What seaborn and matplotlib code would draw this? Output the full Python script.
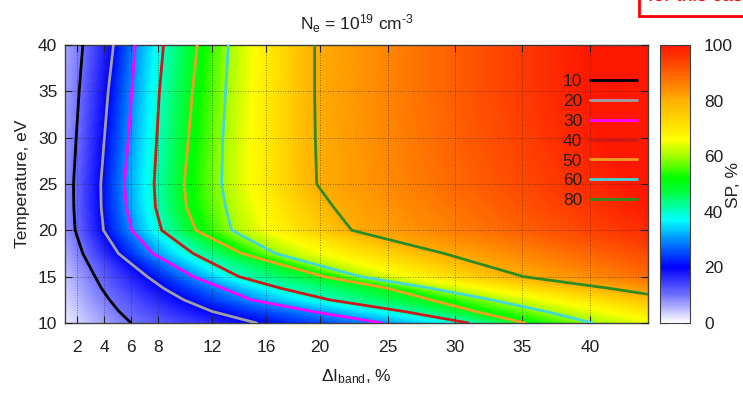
import numpy as np
import pandas as pd
import matplotlib
matplotlib.use("Agg")
import matplotlib.pyplot as plt
import seaborn as sns
from matplotlib.colors import LinearSegmentedColormap
from matplotlib.lines import Line2D
from matplotlib.patches import Rectangle

# ---------------- data ----------------
temperature = [10, 11.25, 12.5, 13.75, 15, 17.5, 20, 22.5, 25, 30, 35, 40]
levels = [10, 20, 30, 40, 50, 60, 80]
# x position (ΔI_band, %) of each SP iso-line at each temperature
x_sp10 = [6.0, 5.1, 4.4, 3.8, 3.33, 2.42, 1.85, 1.75, 1.73, 1.93, 2.15, 2.42]
x_sp20 = [15.3, 12.0, 9.9, 8.4, 7.2, 5.06, 3.95, 3.78, 3.75, 4.02, 4.3, 4.69]
x_sp30 = [24.6, 19.4, 14.9, 12.8, 10.6, 7.6, 6.05, 5.65, 5.5, 5.8, 6.05, 6.3]
x_sp40 = [31.0, 26.2, 20.7, 17.1, 14.0, 10.6, 8.27, 7.8, 7.7, 7.9, 8.1, 8.4]
x_sp50 = [35.2, 31.5, 28.2, 25.0, 20.3, 14.2, 10.8, 10.1, 9.93, 10.25, 10.55, 10.9]
x_sp60 = [40.2, 36.7, 32.7, 28.2, 23.0, 16.7, 13.46, 13.0, 12.7, 12.8, 13.0, 13.2]
x_sp80 = [58.0, 52.0, 47.0, 41.4, 35.1, 29.2, 22.35, 21.0, 19.75, 19.65, 19.6, 19.6]
# outer anchors of the colour field (SP = 0 and SP = 100)
x_sp0 = [0.3, 0.0, -0.3, -0.5, -0.6, -0.8, -1.0, -1.0, -1.0, -1.0, -1.0, -1.0]
x_sp100 = [78, 72, 66, 62, 58, 53, 48, 45, 43, 41, 40, 40]

x_ticks = [2, 4, 6, 8, 12, 16, 20, 25, 30, 35, 40]
y_ticks = [10, 15, 20, 25, 30, 35, 40]
cbar_ticks = [0, 20, 40, 60, 80, 100]
line_colors = ["#000000", "#a0a0a0", "#ff00ff", "#cc1818", "#f0a020", "#40d8d8", "#2e8b22"]

# ---------------- style ----------------
sns.set_style("ticks")
plt.rcParams["font.family"] = ["Liberation Sans", "DejaVu Sans"]
plt.rcParams["mathtext.fontset"] = "custom"
plt.rcParams["mathtext.rm"] = "Liberation Sans"
plt.rcParams["mathtext.it"] = "Liberation Sans:italic"
plt.rcParams["mathtext.default"] = "regular"
FS = 12.5
TXT = "#202020"

cmap = LinearSegmentedColormap.from_list("sp", [
    (0.00, "#ffffff"), (0.10, "#7070ff"), (0.20, "#0000ff"), (0.30, "#0090ff"),
    (0.37, "#00ffff"), (0.42, "#00ffa0"), (0.47, "#00ff40"), (0.52, "#00ff00"),
    (0.60, "#a0ff00"), (0.66, "#ffff00"), (0.80, "#ffb000"), (0.90, "#ff6000"),
    (1.00, "#ff1800")])

fig = plt.figure(figsize=(7.43, 3.93), dpi=100)
W, H = 743, 393
ax = fig.add_axes([65 / W, 1 - 323 / H, 583 / W, 278 / H])
cax = fig.add_axes([660 / W, 1 - 323 / H, 30 / W, 278 / H])

# ---------------- colour field (built from the iso-line positions) ----------------
xmin, xmax = 1.1, 44.3
xgrid = np.linspace(xmin, xmax, 500)
tgrid = np.linspace(10, 40, 300)
cols = [x_sp0, x_sp10, x_sp20, x_sp30, x_sp40, x_sp50, x_sp60, x_sp80, x_sp100]
lev_all = [0] + levels + [100]
pos = np.array([np.interp(tgrid, temperature, c) for c in cols]).T  # (nT, nlev)
Z = np.array([np.interp(xgrid, p, lev_all) for p in pos])
mesh = ax.pcolormesh(xgrid, tgrid, Z, shading="gouraud", cmap=cmap,
                     vmin=0, vmax=100, zorder=1, rasterized=True)

# ---------------- iso-lines ----------------
xs_all = [x_sp10, x_sp20, x_sp30, x_sp40, x_sp50, x_sp60, x_sp80]
df = pd.DataFrame({
    "x": np.concatenate(xs_all),
    "T": np.tile(temperature, len(levels)),
    "level": np.repeat(levels, len(temperature)),
})
pal = dict(zip(levels, line_colors))
sns.lineplot(data=df, x="x", y="T", hue="level", palette=pal, orient="y",
             estimator=None, sort=True, legend=False, linewidth=2, ax=ax, zorder=4)

ax.set_xlim(xmin, xmax)
ax.set_ylim(10, 40)
ax.set_xticks(x_ticks)
ax.set_yticks(y_ticks)
ax.set_axisbelow(False)
ax.grid(True, linestyle=(0, (1, 2)), color="#202020", linewidth=0.6, alpha=0.7, zorder=3)
ax.tick_params(direction="in", top=True, right=True, length=5, width=0.8,
               labelsize=FS, colors="#202020", labelcolor=TXT)
ax.tick_params(axis="x", pad=12)
ax.tick_params(axis="y", pad=5.5)
for s in ax.spines.values():
    s.set_color("#404040")
    s.set_linewidth(1)

ax.set_xlabel(r"$\Delta$I$_{\mathrm{band}}$, %", fontsize=FS, labelpad=9, color=TXT)
ax.set_ylabel("Temperature, eV", fontsize=FS, labelpad=5.5, color=TXT)
ax.set_title(r"N$_{\mathrm{e}}$ = 10$^{19}$ cm$^{\text{-}3}$", fontsize=FS, pad=11, color=TXT)

handles = [Line2D([], [], color=c, lw=2) for c in line_colors]
ax.legend(handles, [str(l) for l in levels], loc="upper right",
          bbox_to_anchor=((637 - 65) / 583, (323 - 74) / 278), frameon=False,
          markerfirst=False, handlelength=2.7, handletextpad=0.46,
          labelspacing=0.27, borderpad=0, borderaxespad=0, fontsize=FS,
          labelcolor=TXT)

# ---------------- colour bar ----------------
cb = fig.colorbar(mesh, cax=cax, ticks=cbar_ticks)
cb.outline.set_edgecolor("#404040")
cax.tick_params(direction="in", left=True, right=True, length=5, width=0.8,
                labelsize=FS, pad=10, colors="#202020", labelcolor=TXT)
fig.text(734 / W, 1 - 185 / H, "SP, %", rotation=90, ha="center", va="center",
         fontsize=FS, color=TXT)

# ---------------- cut-off note at top right ----------------
fig.patches.append(Rectangle((639 / W, 1 - 16 / H), 0.2, 0.1, transform=fig.transFigure,
                             facecolor="white", edgecolor="red", linewidth=2))
fig.text(648 / W, 1 - 1 / H, "for this case", color="red", fontsize=14,
         ha="left", va="baseline")

fig.savefig("out.png", dpi=100)
